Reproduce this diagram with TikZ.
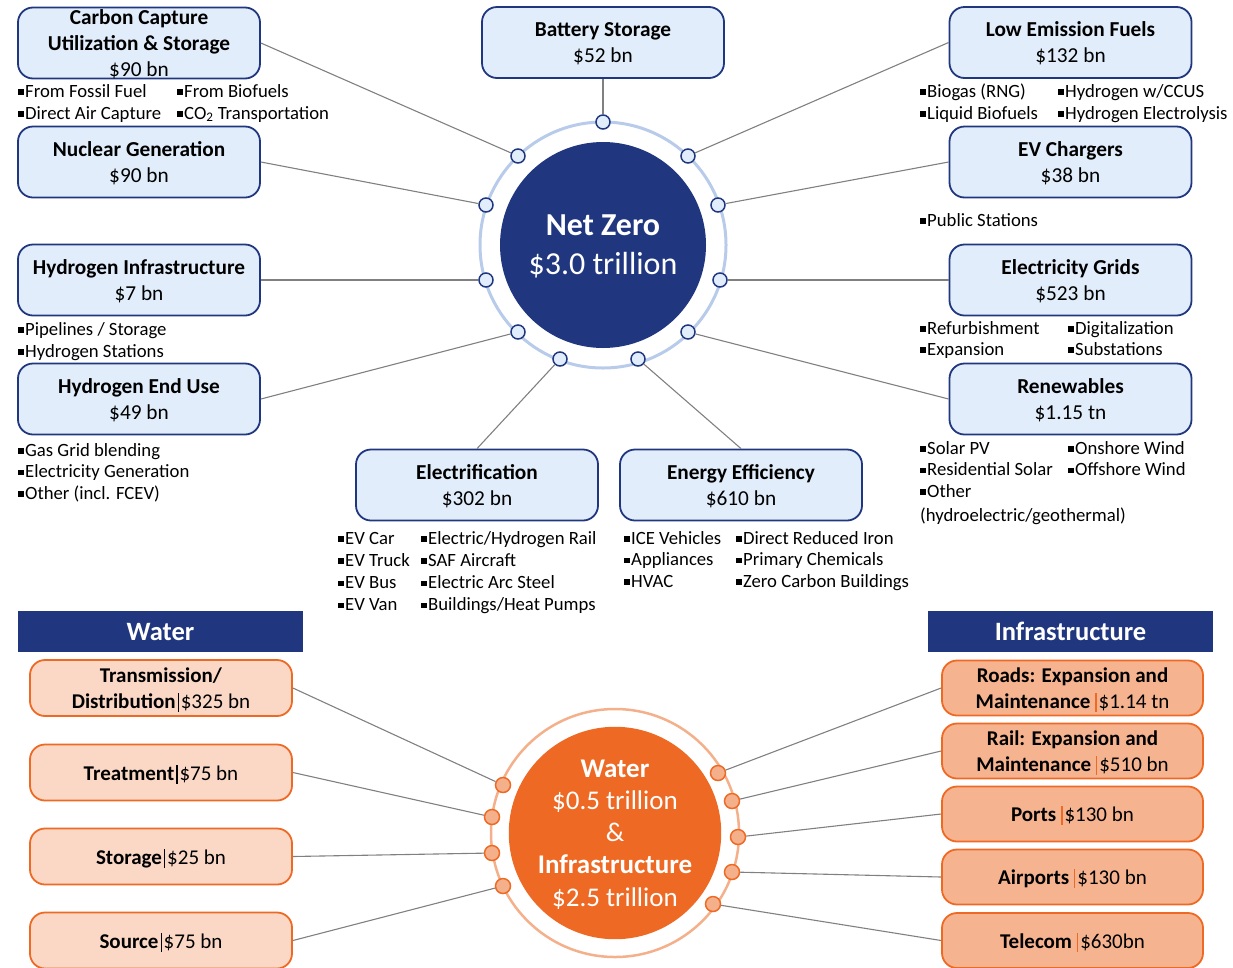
\documentclass[tikz,border=0pt]{standalone}
\usepackage{fontspec}
\setmainfont{Carlito}
\usetikzlibrary{calc}
\definecolor{navy}{HTML}{203780}
\definecolor{netfill}{HTML}{E1EDFB}
\definecolor{ringblue}{HTML}{B8CBEA}
\definecolor{orng}{HTML}{EE6A24}
\definecolor{ringorng}{HTML}{F4B08A}
\definecolor{waterfill}{HTML}{FBD8C6}
\definecolor{infrafill}{HTML}{F6B38F}
\definecolor{linkgray}{HTML}{808080}
\newcommand{\bul}{\rule[2.5pt]{5.5pt}{5.5pt}\hspace{1.5pt}}
\newcommand{\wsep}{\hspace{2pt}\rule[-3.5pt]{1.2pt}{19pt}\hspace{2pt}}
\newcommand{\isep}{\hspace{5pt}\textcolor{orng}{\rule[-3.5pt]{1.2pt}{19pt}}\hspace{2pt}}
\tikzset{%
  % boxes, dots and text
    base/.style = {rectangle, rounded corners=15pt, line width=1.8pt,
                   minimum width=242pt, minimum height=71pt, inner sep=0pt,
                   text depth=0pt, align=center, font=\fontsize{21.3}{26}\selectfont},
    netbox/.style = {base, draw=navy, fill=netfill},
    waterbox/.style = {base, draw=orng, fill=waterfill, minimum width=262pt,
                   minimum height=56pt, font=\fontsize{21}{26}\selectfont},
    infrabox/.style = {waterbox, fill=infrafill, minimum width=261pt,
                   minimum height=55pt},
    banner/.style = {rectangle, fill=navy, text=white, minimum width=285pt,
                   minimum height=41pt, font=\bfseries\fontsize{26.5}{30}\selectfont},
    hub/.style = {circle, text=white, inner sep=0pt, align=center, text depth=0pt},
    netdot/.style = {circle, draw=navy, fill=netfill, line width=1.5pt,
                   minimum size=14pt, inner sep=0pt},
    wdot/.style = {circle, draw=orng, fill=ringorng, line width=1.5pt,
                   minimum size=15pt, inner sep=0pt},
    item/.style = {anchor=base west, inner sep=0pt, font=\fontsize{18.7}{22}\selectfont},
    link/.style = {draw=linkgray, line width=1.1pt}%
}

\begin{document}
\begin{tikzpicture}[x=1pt,y=-1pt]
\useasboundingbox (0,0) rectangle (1233,967);
\clip (0,0) rectangle (1233,967);
\def\Rnz{123pt}
\def\Rwi{124pt}

%net zero hub
\coordinate (NZc) at (603,245);
\draw[ringblue, line width=3pt] (NZc) circle (\Rnz);
\node[hub, fill=navy, minimum size=206pt, font=\fontsize{32}{39}\selectfont] (nz) at (NZc)
      {\textbf{Net Zero}\\\$3.0 trillion};

\foreach \n/\x/\y in {dBat/603/122, dLef/688/156, dEvc/718/205, dGrid/720/280,
    dRen/688/332, dEff/638/359, dElec/560/359, dH2u/518/332, dH2i/486/280,
    dNuc/486/205, dCcus/518/156}
  \node[netdot] (\n) at (\x,\y) {};

\node[netbox] (ccus) at (139,43) {\textbf{Carbon Capture}\\\textbf{Utilization \& Storage}\\\$90 bn};
\node[netbox] (batt) at (603,42.5) {\textbf{Battery Storage}\\\$52 bn};
\node[netbox] (lef) at (1070.5,42.5) {\textbf{Low Emission Fuels}\\\$132 bn};
\node[netbox] (nuc) at (139,162) {\textbf{Nuclear Generation}\\\$90 bn};
\node[netbox] (evc) at (1070.5,162) {\textbf{EV Chargers}\\\$38 bn};
\node[netbox] (h2i) at (139,280) {\textbf{Hydrogen Infrastructure}\\\$7 bn};
\node[netbox] (grid) at (1070.5,280) {\textbf{Electricity Grids}\\\$523 bn};
\node[netbox] (h2u) at (139,399) {\textbf{Hydrogen End Use}\\\$49 bn};
\node[netbox] (ren) at (1070.5,399) {\textbf{Renewables}\\\$1.15 tn};
\node[netbox] (elec) at (477,485) {\textbf{Electrification}\\\$302 bn};
\node[netbox] (eff) at (741,485) {\textbf{Energy Efficiency}\\\$610 bn};

\draw[link] (batt.south) -- (dBat);
\draw[link] (ccus.east) -- (dCcus);
\draw[link] (nuc.east) -- (dNuc);
\draw[link] (h2i.east) -- (dH2i);
\draw[link] (h2u.east) -- (dH2u);
\draw[link] (lef.west) -- (dLef);
\draw[link] (evc.west) -- (dEvc);
\draw[link] (grid.west) -- (dGrid);
\draw[link] (ren.west) -- (dRen);
\draw[link] (elec.north) -- (dElec);
\draw[link] (eff.north) -- (dEff);

%bullet lists
\foreach \txt [count=\i from 0] in {From Fossil Fuel, Direct Air Capture}
  \node[item] (ccusA\i) at (18,97+22*\i) {\bul\txt};
\foreach \txt [count=\i from 0] in {From Biofuels, CO\textsubscript{2} Transportation}
  \node[item] (ccusB\i) at (177,97+22*\i) {\bul\txt};
\foreach \txt [count=\i from 0] in {Biogas (RNG), Liquid Biofuels}
  \node[item] (lefA\i) at (920,97+22*\i) {\bul\txt};
\foreach \txt [count=\i from 0] in {Hydrogen w/CCUS, Hydrogen Electrolysis}
  \node[item] (lefB\i) at (1058,97+22*\i) {\bul\txt};
\node[item] (evcA) at (920,226) {\bul Public Stations};
\foreach \txt [count=\i from 0] in {Pipelines / Storage, Hydrogen Stations}
  \node[item] (h2iA\i) at (18,335+22*\i) {\bul\txt};
\foreach \txt [count=\i from 0] in {Refurbishment, Expansion}
  \node[item] (gridA\i) at (920,334+21*\i) {\bul\txt};
\foreach \txt [count=\i from 0] in {Digitalization, Substations}
  \node[item] (gridB\i) at (1068,334+21*\i) {\bul\txt};
\foreach \txt [count=\i from 0] in {Gas Grid blending, Electricity Generation, Other (incl. FCEV)}
  \node[item] (h2uA\i) at (18,456+21.5*\i) {\bul\txt};
\foreach \txt [count=\i from 0] in {Solar PV, Residential Solar, Other}
  \node[item] (renA\i) at (920,454+21.5*\i) {\bul\txt};
\node[item] (renA3) at (920,521) {(hydroelectric/geothermal)};
\foreach \txt [count=\i from 0] in {Onshore Wind, Offshore Wind}
  \node[item] (renB\i) at (1068,454+21.5*\i) {\bul\txt};
\foreach \txt [count=\i from 0] in {EV Car, EV Truck, EV Bus, EV Van}
  \node[item] (elecA\i) at (338,544+22.3*\i) {\bul\txt};
\foreach \txt [count=\i from 0] in {Electric/Hydrogen Rail, SAF Aircraft, Electric Arc Steel, Buildings/Heat Pumps}
  \node[item] (elecB\i) at (421,544+22.3*\i) {\bul\txt};
\foreach \txt [count=\i from 0] in {ICE Vehicles, Appliances, HVAC}
  \node[item] (effA\i) at (624,544+21.5*\i) {\bul\txt};
\foreach \txt [count=\i from 0] in {Direct Reduced Iron, Primary Chemicals, Zero Carbon Buildings}
  \node[item] (effB\i) at (736,544+21.5*\i) {\bul\txt};

%water and infrastructure hub
\node[banner] (wban) at (160.5,631.5) {Water};
\node[banner] (iban) at (1070.5,631.5) {Infrastructure};

\coordinate (WIc) at (615,833);
\draw[ringorng, line width=2.5pt] (WIc) circle (\Rwi);
\node[hub, fill=orng, minimum size=205pt, font=\fontsize{27}{32.2}\selectfont] (wi) at (WIc)
      {\textbf{Water}\\\$0.5 trillion\\\&\\\textbf{Infrastructure}\\\$2.5 trillion};

\foreach \n/\x/\y in {wTd/503/785, wTr/492/817, wSt/492/853, wSo/503/886,
    iRo/718/773, iRa/732/801, iPo/738/837, iAi/732/872, iTe/713/904}
  \node[wdot] (\n) at (\x,\y) {};

\node[waterbox] (td) at (161,688) {\textbf{Transmission/}\\\textbf{Distribution}\wsep\$325 bn};
\node[waterbox] (tr) at (161,772.5) {\textbf{Treatment}\wsep\$75 bn};
\node[waterbox] (st) at (161,856.5) {\textbf{Storage}\wsep\$25 bn};
\node[waterbox] (so) at (161,940.5) {\textbf{Source}\wsep\$75 bn};

\node[infrabox] (ro) at (1072.5,688) {\textbf{Roads: Expansion and}\\\textbf{Maintenance}\isep\$1.14 tn};
\node[infrabox] (ra) at (1072.5,751) {\textbf{Rail: Expansion and}\\\textbf{Maintenance}\isep\$510 bn};
\node[infrabox] (po) at (1072.5,814) {\textbf{Ports}\isep\$130 bn};
\node[infrabox] (ai) at (1072.5,877) {\textbf{Airports}\isep\$130 bn};
\node[infrabox] (te) at (1072.5,940.5) {\textbf{Telecom}\isep\$630bn};

\draw[link] (td.east) -- (wTd);
\draw[link] (tr.east) -- (wTr);
\draw[link] (st.east) -- (wSt);
\draw[link] (so.east) -- (wSo);
\draw[link] (ro.west) -- (iRo);
\draw[link] (ra.west) -- (iRa);
\draw[link] (po.west) -- (iPo);
\draw[link] (ai.west) -- (iAi);
\draw[link] (te.west) -- (iTe);

\end{tikzpicture}
\end{document}
